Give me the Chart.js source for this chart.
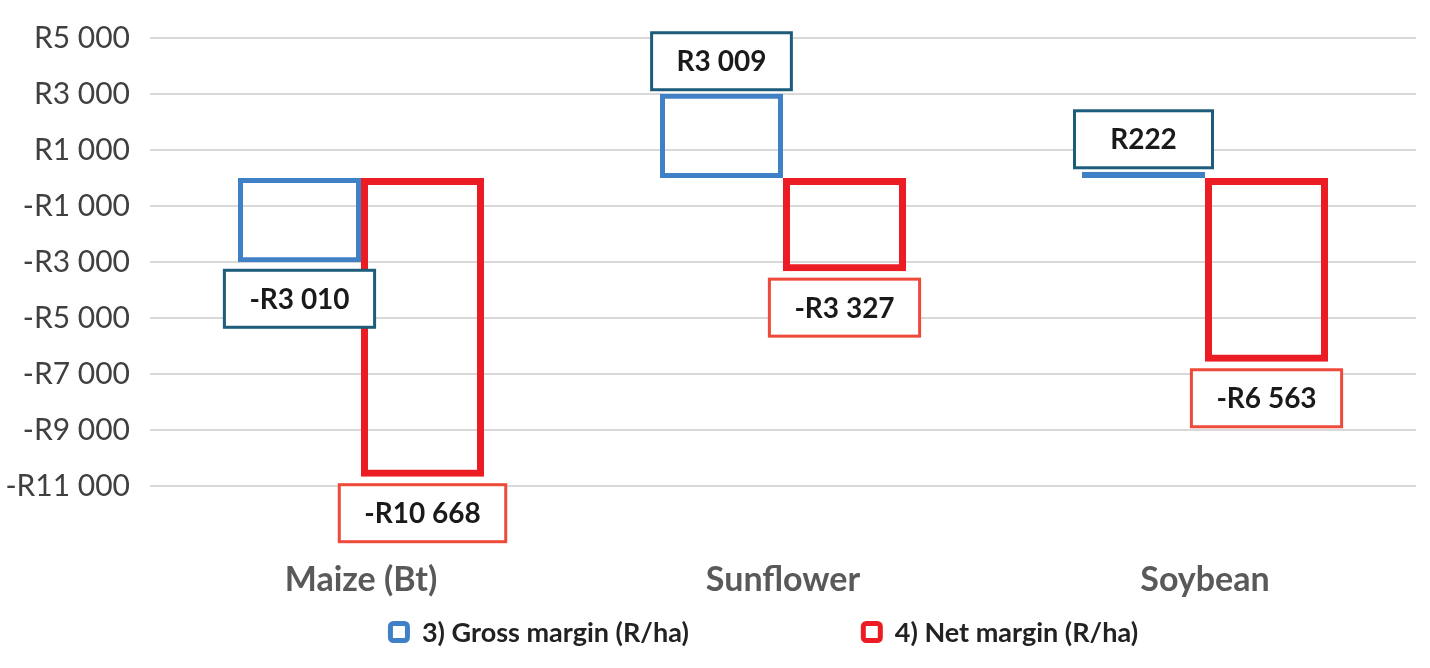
<!DOCTYPE html>
<html>
<head>
<meta charset="utf-8">
<script src="https://cdn.jsdelivr.net/npm/chart.js@4.4.0/dist/chart.umd.min.js"></script>
<style>
html,body{margin:0;padding:0;background:#fff;}
#wrap{width:1430px;height:668px;position:relative;}
</style>
</head>
<body>
<div id="wrap"><canvas id="myChart"></canvas></div>
<script>
var crops = ["Maize (Bt)", "Sunflower", "Soybean"];
var grossMargin = [-3010, 3009, 222];
var netMargin = [-10668, -3327, -6563];
var seriesNames = ["3) Gross margin (R/ha)", "4) Net margin (R/ha)"];
var yTicks = [5000, 3000, 1000, -1000, -3000, -5000, -7000, -9000, -11000];

// R with space as thousands separator
function rands(v){
    var s = Math.abs(Math.round(v)).toString().replace(/\B(?=(\d{3})+(?!\d))/g, ' ');
    return (v < 0 ? '-' : '') + 'R' + s;
}

// boxed value labels at the end of each bar
var boxLabels = {
    id: 'boxLabels',
    afterDatasetsDraw: function(chart){
        var c = chart.ctx;
        c.save();
        c.font = 'bold 28px Lato';
        chart.data.datasets.forEach(function(ds, i){
            var meta = chart.getDatasetMeta(i);
            meta.data.forEach(function(bar, j){
                var v = ds.data[j];
                var txt = rands(v);
                var w = Math.max(138, c.measureText(txt).width + 50);
                var h = 57;
                var top = v >= 0 ? bar.y - 4 - h : bar.y + 8;
                var left = bar.x - w / 2;
                c.fillStyle = '#fff';
                c.fillRect(left, top, w, h);
                c.lineWidth = 3;
                c.strokeStyle = ds.labelBorder;
                c.strokeRect(left, top, w, h);
                c.fillStyle = '#1a1a1a';
                c.textAlign = 'center';
                c.textBaseline = 'middle';
                c.fillText(txt, bar.x, top + h / 2 + 1);
            });
        });
        c.restore();
    }
};

// legend under the category labels
var bottomLegend = {
    id: 'bottomLegend',
    afterDraw: function(chart){
        var c = chart.ctx;
        var area = chart.chartArea;
        c.save();
        c.font = 'bold 27px Lato';
        var box = 22, gap = 12, itemGap = 172;
        var items = chart.data.datasets.map(function(ds){
            return {ds: ds, w: box + gap + c.measureText(ds.label).width};
        });
        var total = items.reduce(function(a, it){ return a + it.w; }, 0) + itemGap * (items.length - 1);
        var x = (area.left + area.right) / 2 - 20 - total / 2;
        var y = 632;
        items.forEach(function(it){
            c.lineWidth = 5;
            c.strokeStyle = it.ds.borderColor;
            c.beginPath();
            c.roundRect(x + 2.5, y - box / 2 + 2.5, box - 5, box - 5, 3);
            c.stroke();
            c.fillStyle = '#222';
            c.textAlign = 'left';
            c.textBaseline = 'middle';
            c.fillText(it.ds.label, x + box + gap, y + 1);
            x += it.w + itemGap;
        });
        c.restore();
    }
};

var ctx = document.getElementById('myChart').getContext('2d');
var chart = new Chart(ctx, {
    type: 'bar',
    data: {
        labels: crops,
        datasets: [{
            label: seriesNames[0],
            data: grossMargin,
            backgroundColor: 'rgba(0,0,0,0)',
            borderColor: '#4080c6',
            borderWidth: 5,
            borderSkipped: false,
            labelBorder: '#1d5c7a',
            categoryPercentage: 0.583,
            barPercentage: 1
        }, {
            label: seriesNames[1],
            data: netMargin,
            backgroundColor: 'rgba(0,0,0,0)',
            borderColor: '#ec1c24',
            borderWidth: 7,
            borderSkipped: false,
            labelBorder: '#ee4a3a',
            categoryPercentage: 0.583,
            barPercentage: 1
        }]
    },
    options: {
        responsive: true,
        maintainAspectRatio: false,
        animation: false,
        layout: {padding: {top: 18, right: 14, bottom: 57, left: 0}},
        plugins: {
            legend: {display: false},
            tooltip: {enabled: false}
        },
        scales: {
            x: {
                afterFit: function(s){ s.height = 125; },
                grid: {display: false},
                border: {display: false},
                ticks: {
                    color: '#595959',
                    font: {family: 'Lato', size: 34, weight: 'bold'},
                    padding: 66,
                    maxRotation: 0
                }
            },
            y: {
                min: -11000,
                max: 5000,
                afterBuildTicks: function(s){
                    s.ticks = yTicks.map(function(v){ return {value: v}; });
                },
                afterFit: function(s){ s.width = 150; },
                grid: {color: '#d9d9d9', lineWidth: 2, drawTicks: false},
                border: {display: false},
                ticks: {
                    color: '#404040',
                    font: {family: 'Lato', size: 30},
                    padding: 20,
                    callback: function(v){ return rands(v); }
                }
            }
        }
    },
    plugins: [boxLabels, bottomLegend]
});
</script>
</body>
</html>
